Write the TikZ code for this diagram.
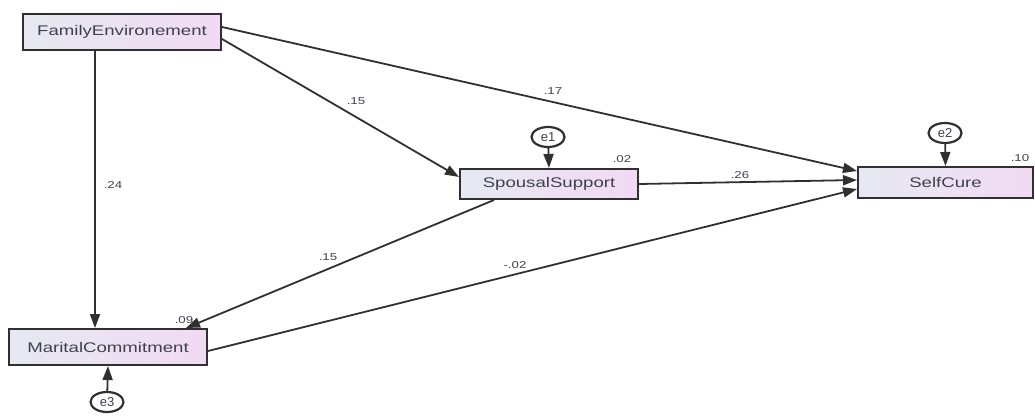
\documentclass[tikz,border=0pt]{standalone}
\usepackage{fontspec}
\setmainfont{Liberation Sans}
\usetikzlibrary{arrows.meta,shapes.geometric,calc}
\definecolor{ln}{HTML}{303030}
\definecolor{txt}{HTML}{404050}
\definecolor{boxL}{HTML}{E6E9F1}
\definecolor{boxR}{HTML}{F1DAF3}
\newcommand\sx[1]{\scalebox{1.33}[1]{#1}}
\begin{document}
\begin{tikzpicture}[x=1pt,y=-1pt,
  var/.style={draw=ln, line width=2pt, left color=boxL, right color=boxR, inner sep=0pt, font=\fontsize{14}{14}\selectfont, text=txt},
  err/.style={ellipse, draw=ln, line width=2.2pt, fill=white, minimum width=33pt, minimum height=20pt, inner sep=0pt, font=\fontsize{13}{13}\selectfont, text=txt},
  path/.style={draw=ln, line width=1.8pt, -{Triangle[length=14pt,width=10pt]}},
  lab/.style={font=\fontsize{10}{10}\selectfont, text=txt}]
\useasboundingbox (0,0) rectangle (1035,415);
% labels
\node[lab] (l24) at (113,185) {\sx{.24}};
\node[lab] (l15a) at (356,101) {\sx{.15}};
\node[lab] (l17) at (553,91) {\sx{.17}};
\node[lab] (l26) at (740,175) {\sx{.26}};
\node[lab] (l15b) at (328,257) {\sx{.15}};
\node[lab] (l02n) at (515,265) {\sx{-.02}};
\node[lab] (l02) at (622,159) {\sx{.02}};
\node[lab] (l10) at (1020,158) {\sx{.10}};
\node[lab] (l09) at (184,320) {\sx{.09}};
% variables
\node[var, minimum width=198pt, minimum height=36pt] (fe) at (122,32) {\sx{FamilyEnvironement}};
\node[var, minimum width=178pt, minimum height=30pt] (ss) at (549,184) {\sx{SpousalSupport}};
\node[var, minimum width=175pt, minimum height=31pt] (sc) at (945.5,182.5) {\sx{SelfCure}};
\node[var, minimum width=198pt, minimum height=36pt] (mc) at (108,347) {\sx{MaritalCommitment}};
% errors
\node[err] (e1) at (548,137) {e1};
\node[err] (e2) at (945,133) {e2};
\node[err] (e3) at (107,402) {e3};
% paths
\draw[path] ($(fe.south west)+(73,0)$) -- ($(mc.north west)+(87,0)$);
\draw[path] ($(fe.north east)+(0,26)$) -- ($(ss.north west)+(0,9)$);
\draw[path] ($(fe.north east)+(0,14)$) -- ($(sc.north west)+(0,5)$);
\draw[path] (ss.east) -- ($(sc.north west)+(0,14)$);
\draw[path] ($(ss.south west)+(35,0)$) -- ($(mc.north west)+(178,0)$);
\draw[path] ($(mc.north east)+(0,23)$) -- ($(sc.north west)+(0,23)$);
\draw[path] (e1) -- (ss.north);
\draw[path] (e2) -- (sc.north);
\draw[path] (e3) -- (mc.south);
\end{tikzpicture}
\end{document}
